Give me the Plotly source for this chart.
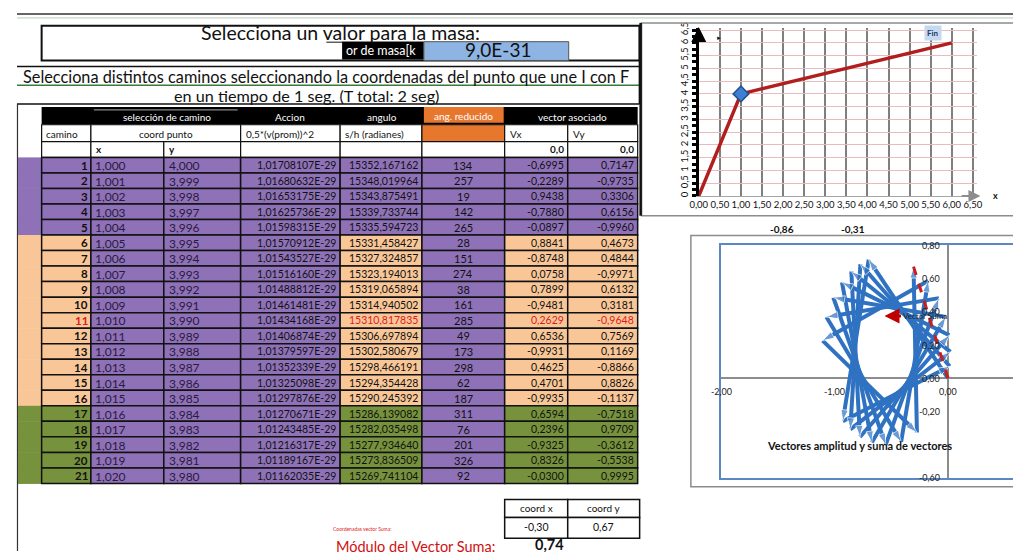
import itertools, math
import plotly.graph_objects as go

# the page body has an 8px margin; all positions below are window pixels
OFF = 8
WIN_W, WIN_H = 1021, 552
W, H = WIN_W - OFF, WIN_H - OFF
FONT = "Lato, 'Open Sans', sans-serif"

# ---------------- data ----------------
camino = list(range(1, 22))
coord_x = [1.000, 1.001, 1.002, 1.003, 1.004, 1.005, 1.006, 1.007, 1.008, 1.009, 1.010,
           1.011, 1.012, 1.013, 1.014, 1.015, 1.016, 1.017, 1.018, 1.019, 1.020]
coord_y = [4.000, 3.999, 3.998, 3.997, 3.996, 3.995, 3.994, 3.993, 3.992, 3.991, 3.990,
           3.989, 3.988, 3.987, 3.986, 3.985, 3.984, 3.983, 3.982, 3.981, 3.980]
accion = [1.01708107e-29, 1.01680632e-29, 1.01653175e-29, 1.01625736e-29, 1.01598315e-29,
          1.01570912e-29, 1.01543527e-29, 1.01516160e-29, 1.01488812e-29, 1.01461481e-29,
          1.01434168e-29, 1.01406874e-29, 1.01379597e-29, 1.01352339e-29, 1.01325098e-29,
          1.01297876e-29, 1.01270671e-29, 1.01243485e-29, 1.01216317e-29, 1.01189167e-29,
          1.01162035e-29]
angulo = [15352.167162, 15348.019964, 15343.875491, 15339.733744, 15335.594723,
          15331.458427, 15327.324857, 15323.194013, 15319.065894, 15314.940502,
          15310.817835, 15306.697894, 15302.580679, 15298.466191, 15294.354428,
          15290.245392, 15286.139082, 15282.035498, 15277.934640, 15273.836509,
          15269.741104]
ang_reducido = [134, 257, 19, 142, 265, 28, 151, 274, 38, 161, 285, 49, 173, 298, 62,
                187, 311, 76, 201, 326, 92]
vx = [-0.6995, -0.2289, 0.9438, -0.7880, -0.0897, 0.8841, -0.8748, 0.0758, 0.7899, -0.9481,
      0.2629, 0.6536, -0.9931, 0.4625, 0.4701, -0.9935, 0.6594, 0.2396, -0.9325, 0.8326, -0.0300]
vy = [0.7147, -0.9735, 0.3306, 0.6156, -0.9960, 0.4673, 0.4844, -0.9971, 0.6132, 0.3181,
      -0.9648, 0.7569, 0.1169, -0.8866, 0.8826, -0.1137, -0.7518, 0.9709, -0.3612, -0.5538, 0.9995]
highlight_row = 11
masa = "9,0E-31"
side_values = ["-0,86", "-0,31"]

# path chart (I -> punto -> F)
path_x = [0, 1, 6]
path_y = [0, 4, 6]
point_x = [1]
point_y = [4]
x_ticks = [0, 0.5, 1, 1.5, 2, 2.5, 3, 3.5, 4, 4.5, 5, 5.5, 6, 6.5]
x_ticklabels = ["0,00", "0,50", "1,00", "1,50", "2,00", "2,50", "3,00", "3,50", "4,00",
                "4,50", "5,00", "5,50", "6,00", "6,50"]
y_ticks = [0, 0.5, 1, 1.5, 2, 2.5, 3, 3.5, 4, 4.5, 5, 5.5, 6, 6.5]
y_ticklabels = ["0", "0,5", "1", "1,5", "2", "2,5", "3", "3,5", "4", "4,5", "5", "5,5", "6", "6,5"]

# vector chart ticks
vx_ticks = [-2, -1, 0]
vx_ticklabels = ["-2,00", "-1,00", "0,00"]
vy_ticks = [0.8, 0.6, 0.4, 0.2, 0.0, -0.2, -0.6]
vy_ticklabels = ["0,80", "0,60", "0,40", "0,20", "0,00", "-0,20", "-0,60"]

# ---------------- helpers ----------------
shapes, annots = [], []


def PX(x):
    return (x - OFF) / W


def PY(y):
    return 1 - (y - OFF) / H


def rect(x0, y0, x1, y1, fill=None, line=None, lw=1.0):
    shapes.append(dict(type="rect", xref="paper", yref="paper", layer="above",
                       x0=PX(x0), x1=PX(x1), y0=PY(y1), y1=PY(y0),
                       fillcolor=fill if fill else "rgba(0,0,0,0)",
                       line=dict(color=line if line else "rgba(0,0,0,0)",
                                 width=lw if line else 0)))


def hline(x0, x1, y, color="#111", lw=1.0):
    shapes.append(dict(type="line", xref="paper", yref="paper", layer="above",
                       x0=PX(x0), x1=PX(x1), y0=PY(y), y1=PY(y),
                       line=dict(color=color, width=lw)))


def vline(x, y0, y1, color="#111", lw=1.0):
    shapes.append(dict(type="line", xref="paper", yref="paper", layer="above",
                       x0=PX(x), x1=PX(x), y0=PY(y0), y1=PY(y1),
                       line=dict(color=color, width=lw)))


def txt(x, y, s, size=11, color="#111", anchor="center", bold=False, bg=None):
    annots.append(dict(xref="paper", yref="paper", x=PX(x), y=PY(y),
                       text=("<b>%s</b>" % s) if bold else s, showarrow=False,
                       xanchor=anchor, yanchor="middle", borderpad=0,
                       bgcolor=bg if bg else "rgba(0,0,0,0)",
                       font=dict(family=FONT, size=size, color=color)))


def dec(v, d):
    return f"{v:.{d}f}".replace(".", ",")


PURPLE = "#8f71b8"
TAN = "#f9c797"
GREEN = "#76923c"
ORANGE = "#e8772e"
BLUE_CELL = "#8db4e2"
RED = "#e01b1b"
BLACK = "#111111"

# ---------------- spreadsheet frame ----------------
hline(OFF, WIN_W, 9, "#333", 1.5)
hline(OFF, WIN_W, 13, "#b9c9b9", 1)
rect(33, 21, 640, 56, line=BLACK, lw=2)
txt(336, 28, "Selecciona un valor para la masa:", size=19.5)
hline(322, 421, 37.5, BLACK, 1)
rect(338, 37, 421, 55, fill="#000")
txt(341, 46, "or de masa[k", size=12.5, color="white", anchor="left")
rect(421, 37, 568, 56, fill=BLUE_CELL, line="#555", lw=1)
txt(496, 45, masa, size=19)

hline(OFF, 640, 62, BLACK, 1.5)
txt(322, 72, "Selecciona distintos caminos seleccionando la coordenadas del punto que une I con F", size=16.3)
hline(OFF, 640, 81, "#3a7a3a", 1.5)
txt(302, 91, "en un tiempo de 1 seg. (T total: 2 seg)", size=16.2)
hline(OFF, 640, 100, BLACK, 1.5)
vline(640, 20, 100, BLACK, 2)
vline(8.5, 100, 552, "#333", 1.2)

# ---------------- table header ----------------
cols = [33, 83, 157, 235, 336, 419, 503, 567, 638]
rect(33, 103, 638, 121, fill="#000")
rect(421, 103, 502, 119, fill=ORANGE)
hline(86, 232, 106, "#aaa", 1)
txt(160, 113, "selección de camino", size=10, color="white")
txt(285, 113, "Accion", size=10, color="white")
txt(378, 113, "angulo", size=10, color="white")
txt(461, 112, "ang. reducido", size=10, color="white")
txt(572, 113, "vector asociado", size=10, color="white")

r2 = [(33, 83), (83, 235), (235, 336), (336, 419), (419, 503), (503, 567), (567, 638)]
for a, b in r2:
    rect(a, 121, b, 138, fill=ORANGE if a == 419 else "white", line=BLACK, lw=1.2)
txt(36, 130, "camino", size=10, anchor="left")
txt(159, 130, "coord punto", size=10)
txt(239, 130, "0,5*(v(prom))^2", size=10, anchor="left")
txt(340, 130, "s/h (radianes)", size=10, anchor="left")
txt(507, 130, "Vx", size=10, anchor="left")
txt(571, 130, "Vy", size=10, anchor="left")

for i in range(len(cols) - 1):
    rect(cols[i], 138, cols[i + 1], 154, fill="white", line=BLACK, lw=1.2)
txt(87, 146, "x", size=10, anchor="left", bold=True)
txt(161, 146, "y", size=10, anchor="left", bold=True)
txt(564, 146, "0,0", size=10, anchor="right", bold=True)
txt(635, 146, "0,0", size=10, anchor="right", bold=True)

# ---------------- table body ----------------
RH = 15.7
TOP = 154
for i, c in enumerate(camino):
    y0 = TOP + i * RH
    y1 = y0 + RH
    ym = (y0 + y1) / 2
    grp = PURPLE if c <= 5 else (TAN if c <= 16 else GREEN)
    rect(9, y0, 33, y1 + 0.5, fill=grp)
    fills = [grp, PURPLE, PURPLE, PURPLE, grp, PURPLE, grp, grp]
    for k in range(len(cols) - 1):
        rect(cols[k], y0, cols[k + 1], y1, fill=fills[k], line=BLACK, lw=1.5)
    red = (c == highlight_row)
    tc = RED if red else BLACK
    txt(81, ym, str(c), size=11.5, color=tc, anchor="right", bold=True)
    txt(86, ym + 0.5, dec(coord_x[i], 3), size=12, color="#2a1a40", anchor="left")
    txt(161, ym + 0.5, dec(coord_y[i], 3), size=12, color="#2a1a40", anchor="left")
    txt(333, ym, f"{accion[i]:.8E}".replace(".", ","), size=10.5, color=BLACK, anchor="right")
    txt(416, ym, dec(angulo[i], 6), size=10.5, color=tc, anchor="right")
    txt(461, ym, str(ang_reducido[i]), size=11, color=BLACK)
    txt(564, ym, dec(vx[i], 4), size=10.5, color=tc, anchor="right")
    txt(635, ym, dec(vy[i], 4), size=10.5, color=tc, anchor="right")

# ---------------- sum block ----------------
sum_x = sum(vx)
sum_y = sum(vy)
modulo = math.hypot(sum_x, sum_y)
rect(503, 500, 567, 518, fill="white", line=BLACK, lw=1.5)
rect(567, 500, 640, 518, fill="white", line=BLACK, lw=1.5)
rect(503, 518, 567, 539, fill="white", line=BLACK, lw=1.5)
rect(567, 518, 640, 539, fill="white", line=BLACK, lw=1.5)
txt(535, 509, "coord x", size=10)
txt(603, 509, "coord y", size=10)
txt(535, 528, dec(sum_x, 2), size=10.5)
txt(603, 528, dec(sum_y, 2), size=10.5)
txt(358, 530, "Coordenadas vector Suma:", size=5, color=RED)
txt(412, 547, "Módulo del Vector Suma:", size=14.5, color="#d01010")
txt(549, 545, dec(modulo, 2), size=14.5, bold=True)

# ---------------- chart frames ----------------
rect(642, 18, 1030, 213, line="#8c8c8c", lw=1.5)
vline(641, 18, 213, BLACK, 2.5)
rect(692, 233, 1030, 487, line="#8c8c8c", lw=1.5)
txt(785, 226, side_values[0], size=10, bold=True)
txt(857, 226, side_values[1], size=10, bold=True)

# ---------------- figure ----------------
fig = go.Figure()

# top chart: path
fig.add_trace(go.Scatter(x=path_x, y=path_y, mode="lines", xaxis="x", yaxis="y",
                         line=dict(color="#b21d1d", width=3.5), hoverinfo="skip"))
fig.add_trace(go.Scatter(x=point_x, y=point_y, mode="markers", xaxis="x", yaxis="y",
                         marker=dict(symbol="diamond", size=12, color="#3d7fd3",
                                     line=dict(color="#1f4f8f", width=1.5)), hoverinfo="skip"))

# bottom chart: chain of amplitude vectors
cx = [0.0] + list(itertools.accumulate(vx))
cy = [0.0] + list(itertools.accumulate(vy))
fig.add_trace(go.Scatter(x=cx, y=cy, mode="lines+markers", xaxis="x2", yaxis="y2",
                         line=dict(color="#2f72c2", width=4),
                         marker=dict(symbol="arrow", angleref="previous",
                                     size=[0] + [12] * len(vx), color="#2f72c2"),
                         hoverinfo="skip"))
fig.add_trace(go.Scatter(x=[0, sum_x], y=[0, sum_y], mode="lines", xaxis="x2", yaxis="y2",
                         line=dict(color="#c81e1e", width=3, dash="dash"), hoverinfo="skip"))

# axis arrows & labels (top chart)
annots.append(dict(xref="x", yref="y", axref="x", ayref="y", x=0, y=6.62, ax=0, ay=6.2,
                   showarrow=True, arrowhead=2, arrowsize=1, arrowwidth=3, arrowcolor="#000", text=""))
annots.append(dict(xref="x", yref="y", axref="x", ayref="y", x=6.68, y=0, ax=6.2, ay=0,
                   showarrow=True, arrowhead=2, arrowsize=1.2, arrowwidth=2, arrowcolor="#8c8c8c", text=""))
txt(1001, 193, "x", size=9, bold=True)
txt(721, 33, "►", size=6)
annots.append(dict(xref="x", yref="y", x=5.55, y=6.38, text="<b>Fin</b>", showarrow=False,
                   bgcolor="#c6d9f1", borderpad=2, font=dict(family=FONT, size=8, color="#1f3864")))

# vector chart labels
for v, s in zip(vx_ticks, vx_ticklabels):
    annots.append(dict(xref="x2", yref="y2", x=v, y=0, yshift=-13, text=s, showarrow=False,
                       font=dict(family=FONT, size=9, color="#222")))
for v, s in zip(vy_ticks, vy_ticklabels):
    annots.append(dict(xref="x2", yref="y2", x=0, y=v, xanchor="right", xshift=-6, text=s,
                       showarrow=False, font=dict(family=FONT, size=9, color="#222")))
annots.append(dict(xref="x2", yref="y2", x=-0.56, y=0.375, ax=40, ay=0, text="Vector Suma",
                   showarrow=True, arrowhead=2, arrowsize=1, arrowwidth=3, arrowcolor="#c00000",
                   font=dict(family=FONT, size=8, color="#222")))
txt(863, 445, "Vectores amplitud y suma de vectores", size=11, bold=True)

fig.update_layout(
    width=W, height=H, margin=dict(l=0, r=0, t=0, b=0),
    paper_bgcolor="white", plot_bgcolor="rgba(0,0,0,0)",
    showlegend=False, separators=",.",
    shapes=shapes, annotations=annots,
    xaxis=dict(domain=[PX(700), PX(982.5)], range=[0, 6.6], tickvals=x_ticks, ticktext=x_ticklabels,
               tickangle=0, showgrid=True, gridcolor="#7f7f7f", gridwidth=2, zeroline=False,
               showline=True, linecolor="#a6a6a6", linewidth=1, ticks="",
               tickfont=dict(family=FONT, size=9.5, color="#111"), fixedrange=True),
    yaxis=dict(domain=[PY(193), PY(22.7)], range=[0, 6.6], tickvals=y_ticks, ticktext=y_ticklabels,
               tickangle=-90, showgrid=True, gridcolor="#e8bcbc", gridwidth=1, zeroline=False,
               showline=True, linecolor="#000", linewidth=3, ticks="outside", ticklen=4,
               tickwidth=3, tickcolor="#000",
               minor=dict(ticks="outside", dtick=0.25, ticklen=4, tickwidth=3, tickcolor="#000"),
               tickfont=dict(family=FONT, size=9.5, color="#111"), fixedrange=True),
    xaxis2=dict(domain=[PX(723), 1.0], range=[-2, 0.592], anchor="y2", showticklabels=False,
                showgrid=False, zeroline=True, zerolinecolor="#8c8c8c", zerolinewidth=1.5,
                showline=True, mirror=True, linecolor="#5b87c2", linewidth=1.5, ticks="",
                fixedrange=True),
    yaxis2=dict(domain=[PY(478), PY(243)], range=[-0.6, 0.8], anchor="x2", showticklabels=False,
                showgrid=False, zeroline=True, zerolinecolor="#8c8c8c", zerolinewidth=1.5,
                showline=True, mirror=False, linecolor="#5b87c2", linewidth=1.5, ticks="",
                fixedrange=True),
)

fig.write_html("out.html")
